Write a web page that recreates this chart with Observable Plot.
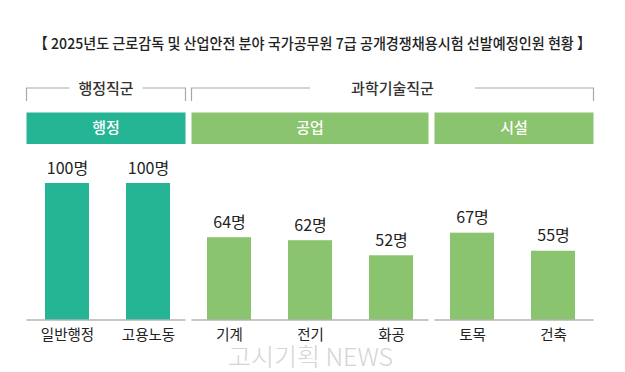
<!DOCTYPE html>
<html><head><meta charset="utf-8">
<script src="https://cdn.jsdelivr.net/npm/d3@7"></script>
<script src="https://cdn.jsdelivr.net/npm/@observablehq/plot@0.6"></script>
<style>
body{margin:0;background:#fff;}
#wrap{width:625px;height:372px;position:relative;overflow:hidden;background:#fff;}
#title{height:66px;box-sizing:border-box;padding-top:33px;text-align:center;font:500 15px "Noto Sans CJK KR",sans-serif;line-height:20px;color:#222;}
#title span{display:inline-block;transform:scaleX(0.94);white-space:nowrap;}
</style></head><body>
<div id="wrap"><div id="title"><span>【 2025년도 근로감독 및 산업안전 분야 국가공무원 7급 공개경쟁채용시험 선발예정인원 현황 】</span></div><div id="chart"></div></div>
<script>
const categories = ["일반행정","고용노동","기계","전기","화공","토목","건축"];
const values = [100,100,64,62,52,67,55];
const subgroups = ["행정","행정","공업","공업","공업","시설","시설"];
const subgroupNames = ["행정","공업","시설"];
const subgroupFamilies = ["행정직군","과학기술직군","과학기술직군"];
const families = ["행정직군","과학기술직군"];
const unit = "명";
const watermark = "고시기획 NEWS";

const familyOf = s => subgroupFamilies[subgroupNames.indexOf(s)];
const rows = categories.map((c, i) => ({cat: c, v: values[i], sub: subgroups[i], fam: familyOf(subgroups[i])}));

const yMin = 9;
const colors = ["#25b594", "#8bc46e"];
const bracketGap = [73, 165];
const FONT = '"Noto Sans CJK KR", sans-serif';
const NUMFONT = '"Liberation Sans Narrow", "Noto Sans CJK KR", sans-serif';

function headers(index, scales, vals, dims) {
  const x = scales.x;
  const bw = typeof x.bandwidth === "function" ? x.bandwidth() : x.bandwidth;
  const step = x(categories[1]) - x(categories[0]);
  const L = dims.marginLeft, R = dims.width - dims.marginRight;
  const ext = cats => {
    let a = x(cats[0]) + bw / 2 - step / 2, b = x(cats[cats.length - 1]) + bw / 2 + step / 2;
    if (a > L + 1) a += 3;
    if (b < R - 1) b -= 3;
    return [a, b];
  };
  const g = d3.create("svg:g");
  const base = scales.y(yMin);
  subgroupNames.forEach((s, i) => {
    const [a, b] = ext(categories.filter((c, j) => subgroups[j] === s));
    const col = scales.color(subgroupFamilies[i]);
    g.append("rect").attr("x", a).attr("y", 46.5).attr("width", b - a).attr("height", 31.5).attr("fill", col);
    g.append("text").attr("x", (a + b) / 2).attr("y", 62).attr("dy", "0.35em")
      .attr("text-anchor", "middle").attr("fill", "#fff").attr("font-size", 15)
      .attr("font-family", FONT).attr("font-weight", 500).text(s);
    g.append("line").attr("x1", a).attr("x2", b).attr("y1", base).attr("y2", base)
      .attr("stroke", "#b3b3b3").attr("stroke-width", 1.5);
  });
  families.forEach((f, i) => {
    const [a, b] = ext(categories.filter((c, j) => familyOf(subgroups[j]) === f));
    const half = bracketGap[i] / 2, m = (a + b) / 2;
    g.append("path").attr("d", `M${a},35V22H${m - half}M${m + half},22H${b}V35`)
      .attr("fill", "none").attr("stroke", "#a8a8a8").attr("stroke-width", 1.2);
    g.append("text").attr("x", m).attr("y", 23).attr("dy", "0.35em")
      .attr("text-anchor", "middle").attr("fill", "#333").attr("font-size", 15)
      .attr("font-family", FONT).attr("font-weight", 500).text(f);
  });
  return g.node();
}

const chart = Plot.plot({
  width: 625, height: 306,
  marginTop: 117, marginBottom: 52, marginLeft: 26, marginRight: 31,
  x: {domain: categories, paddingInner: 0.458, paddingOuter: 0.229, axis: null},
  y: {domain: [yMin, 100], axis: null},
  color: {domain: families, range: colors},
  style: {fontFamily: FONT, overflow: "visible", background: "#fff"},
  marks: [
    Plot.barY(rows, {x: "cat", y1: yMin, y2: "v", fill: "fam"}),
    Plot.text(rows, {x: "cat", y: "v", text: d => d.v + unit, dy: -15, lineAnchor: "middle",
      fontSize: 16, fill: "#222", fontFamily: NUMFONT}),
    Plot.text(categories, {x: d => d, frameAnchor: "bottom", dy: 15, lineAnchor: "middle",
      fontSize: 14.5, fill: "#222"}),
    Plot.text([watermark], {frameAnchor: "bottom", dy: 37, lineAnchor: "middle",
      fontSize: 25, fill: "#d4d4d4", fontWeight: 300}),
    headers
  ]
});
document.getElementById("chart").appendChild(chart);
</script>
</body></html>
